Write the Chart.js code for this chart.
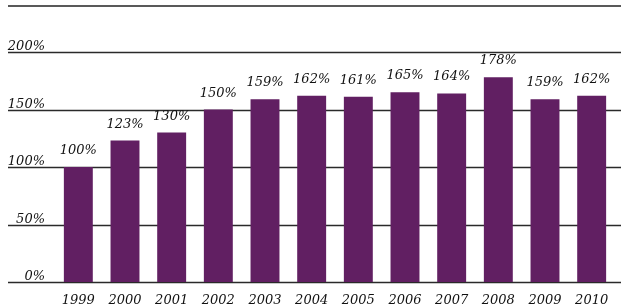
<!DOCTYPE html>
<html>
<head>
<meta charset="utf-8">
<script src="https://cdn.jsdelivr.net/npm/chart.js@4/dist/chart.umd.min.js"></script>
<style>
  body { margin: 0; background: #fff; }
  #wrap { width: 621px; height: 307px; }
</style>
</head>
<body>
<div id="wrap"><canvas id="indexChart" width="621" height="307"></canvas></div>
<script>
const years = ['1999', '2000', '2001', '2002', '2003', '2004', '2005', '2006', '2007', '2008', '2009', '2010'];
const indexValues = [100, 123, 130, 150, 159, 162, 161, 165, 164, 178, 159, 162];
const gridValues = [0, 50, 100, 150, 200];
const gridLabels = ['0%', '50%', '100%', '150%', '200%'];

const labelFont = 'italic 13px "DejaVu Serif"';

// horizontal rules run across the whole width, labels sit above them
const rulesPlugin = {
    id: 'rules',
    beforeDatasetsDraw(chart) {
        const { ctx, chartArea, scales } = chart;
        ctx.save();
        ctx.strokeStyle = '#222';
        ctx.lineWidth = 1.6;
        ctx.beginPath();
        ctx.moveTo(8, chartArea.top);
        ctx.lineTo(chart.width, chartArea.top);
        ctx.stroke();

        ctx.strokeStyle = '#2a2a2a';
        ctx.lineWidth = 1.3;
        ctx.font = labelFont;
        ctx.fillStyle = '#111';
        ctx.textAlign = 'right';
        ctx.textBaseline = 'alphabetic';
        gridValues.forEach((v, i) => {
            const y = Math.round(scales.y.getPixelForValue(v)) + 0.5;
            ctx.beginPath();
            ctx.moveTo(8, y);
            ctx.lineTo(chart.width, y);
            ctx.stroke();
            ctx.fillText(gridLabels[i], 45, y - 3);
        });
        ctx.restore();
    },
    afterDatasetsDraw(chart) {
        const { ctx } = chart;
        const meta = chart.getDatasetMeta(0);
        ctx.save();
        ctx.font = labelFont;
        ctx.fillStyle = '#111';
        ctx.textAlign = 'center';
        ctx.textBaseline = 'alphabetic';
        meta.data.forEach((bar, i) => {
            ctx.fillText(indexValues[i] + '%', bar.x, bar.y - 13);
        });
        ctx.restore();
    }
};

new Chart(document.getElementById('indexChart'), {
    type: 'bar',
    data: {
        labels: years,
        datasets: [{
            data: indexValues,
            backgroundColor: '#611f62',
            categoryPercentage: 1,
            barPercentage: 0.62
        }]
    },
    options: {
        responsive: false,
        animation: false,
        layout: { padding: { left: 55, right: 6, top: 6, bottom: 0 } },
        plugins: { legend: { display: false }, tooltip: { enabled: false } },
        scales: {
            y: {
                display: false,
                min: 0,
                max: 240
            },
            x: {
                grid: { display: false, drawTicks: false },
                border: { display: false },
                afterFit(scale) { scale.height = 25; },
                ticks: {
                    color: '#111',
                    padding: 11,
                    font: { family: 'DejaVu Serif', style: 'italic', size: 13 }
                }
            }
        }
    },
    plugins: [rulesPlugin]
});
</script>
</body>
</html>
